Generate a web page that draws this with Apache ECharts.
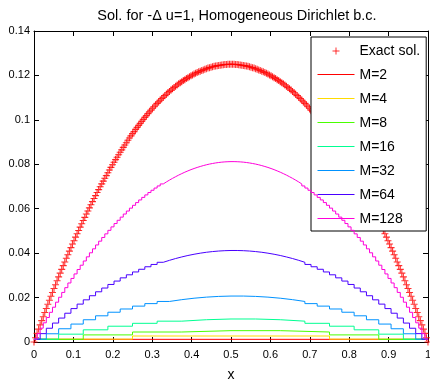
<!DOCTYPE html>
<html>
<head>
<meta charset="utf-8">
<script src="https://cdn.jsdelivr.net/npm/echarts@6/dist/echarts.min.js"></script>
<style>
html,body{margin:0;padding:0;background:#fff;}
#c{width:430px;height:383px;}
</style>
</head>
<body>
<div id="c"></div>
<script>
const titleText = 'Sol. for -\u0394 u=1, Homogeneous Dirichlet b.c.';
const xName = 'x';
const seriesNames = ['Exact sol.', 'M=2', 'M=4', 'M=8', 'M=16', 'M=32', 'M=64', 'M=128'];
const colors = ['#ff0000', '#ff0000', '#ffdb00', '#49ff00', '#00ff92', '#0092ff', '#4900ff', '#ff00db'];

// exact solution sampled at 257 equally spaced points on [0,1]
const exactVals = [
0,.0019,.0039,.0058,.0077,.0096,.0114,.0133,.0151,.0170,
.0188,.0206,.0223,.0241,.0258,.0276,.0293,.0310,.0327,.0344,
.0360,.0377,.0393,.0409,.0425,.0441,.0456,.0472,.0487,.0502,
.0517,.0532,.0547,.0561,.0576,.0590,.0604,.0618,.0632,.0646,
.0659,.0673,.0686,.0699,.0712,.0724,.0737,.0749,.0762,.0774,
.0786,.0798,.0809,.0821,.0832,.0843,.0854,.0865,.0876,.0887,
.0897,.0908,.0918,.0928,.0938,.0947,.0957,.0966,.0975,.0984,
.0993,.1002,.1011,.1019,.1028,.1036,.1044,.1052,.1059,.1067,
.1074,.1081,.1089,.1096,.1102,.1109,.1115,.1122,.1128,.1134,
.1140,.1146,.1151,.1157,.1162,.1167,.1172,.1177,.1181,.1186,
.1190,.1194,.1198,.1202,.1206,.1210,.1213,.1216,.1219,.1222,
.1225,.1228,.1230,.1233,.1235,.1237,.1239,.1241,.1242,.1244,
.1245,.1246,.1247,.1248,.1249,.1249,.1250,.1250,.1250,
.1250,.1250,.1249,.1249,.1248,.1247,.1246,.1245,
.1244,.1242,.1241,.1239,.1237,.1235,.1233,.1230,.1228,.1225,
.1222,.1219,.1216,.1213,.1210,.1206,.1202,.1198,.1194,.1190,
.1186,.1181,.1177,.1172,.1167,.1162,.1157,.1151,.1146,.1140,
.1134,.1128,.1122,.1115,.1109,.1102,.1096,.1089,.1081,.1074,
.1067,.1059,.1052,.1044,.1036,.1028,.1019,.1011,.1002,.0993,
.0984,.0975,.0966,.0957,.0947,.0938,.0928,.0918,.0908,.0897,
.0887,.0876,.0865,.0854,.0843,.0832,.0821,.0809,.0798,.0786,
.0774,.0762,.0749,.0737,.0724,.0712,.0699,.0686,.0673,.0659,
.0646,.0632,.0618,.0604,.0590,.0576,.0561,.0547,.0532,.0517,
.0502,.0487,.0472,.0456,.0441,.0425,.0409,.0393,.0377,.0360,
.0344,.0327,.0310,.0293,.0276,.0258,.0241,.0223,.0206,.0188,
.0170,.0151,.0133,.0114,.0096,.0077,.0058,.0039,.0019,0
];

// piecewise-constant values, one per cell of width 1/M
const m2 = [0.0012, 0.0012];
const m4 = [0.0013, 0.0027, 0.0027, 0.0013];
const m8 = [0.0012, 0.0032, 0.0045, 0.0051, 0.0051, 0.0045, 0.0032, 0.0012];
const m16 = [0.00126,0.00353,0.00548,0.00711,0.00841,0.00938,0.01003,0.01036,
             0.01036,0.01003,0.00938,0.00841,0.00711,0.00548,0.00353,0.00126];
const m32 = [0.00127,0.00370,0.00596,0.00807,0.01001,0.01179,0.01340,0.01486,0.01615,0.01728,0.01825,0.01906,0.01971,0.02020,0.02052,0.02068,
             0.02068,0.02052,0.02020,0.01971,0.01906,0.01825,0.01728,0.01615,0.01486,0.01340,0.01179,0.01001,0.00807,0.00596,0.00370,0.00127];
const m64 = [
0.00128,0.00377,0.00619,0.00852,0.01077,0.01295,0.01504,0.01705,0.01898,0.02083,
0.02260,0.02429,0.02590,0.02743,0.02888,0.03025,0.03153,0.03274,0.03387,0.03491,
0.03588,0.03676,0.03757,0.03829,0.03894,0.03950,0.03998,0.04039,0.04071,0.04095,
0.04111,0.04119,
0.04119,0.04111,
0.04095,0.04071,0.04039,0.03998,0.03950,0.03894,0.03829,0.03757,0.03676,0.03588,
0.03491,0.03387,0.03274,0.03153,0.03025,0.02888,0.02743,0.02590,0.02429,0.02260,
0.02083,0.01898,0.01705,0.01504,0.01295,0.01077,0.00852,0.00619,0.00377,0.00128];
const m128 = [
0.00126,0.00376,0.00622,0.00864,0.01102,0.01336,0.01566,0.01792,0.02014,0.02232,
0.02446,0.02656,0.02862,0.03064,0.03263,0.03457,0.03647,0.03834,0.04016,0.04194,
0.04369,0.04539,0.04706,0.04868,0.05027,0.05182,0.05332,0.05479,0.05622,0.05760,
0.05895,0.06026,0.06153,0.06276,0.06395,0.06510,0.06621,0.06728,0.06831,0.06930,
0.07025,0.07116,0.07204,0.07287,0.07366,0.07441,0.07513,0.07580,0.07644,0.07703,
0.07759,0.07810,0.07858,0.07901,0.07941,0.07977,0.08009,0.08036,0.08060,0.08080,
0.08096,0.08108,0.08116,0.08120,
0.08120,0.08116,0.08108,0.08096,
0.08080,0.08060,0.08036,0.08009,0.07977,0.07941,0.07901,0.07858,0.07810,0.07759,
0.07703,0.07644,0.07580,0.07513,0.07441,0.07366,0.07287,0.07204,0.07116,0.07025,
0.06930,0.06831,0.06728,0.06621,0.06510,0.06395,0.06276,0.06153,0.06026,0.05895,
0.05760,0.05622,0.05479,0.05332,0.05182,0.05027,0.04868,0.04706,0.04539,0.04369,
0.04194,0.04016,0.03834,0.03647,0.03457,0.03263,0.03064,0.02862,0.02656,0.02446,
0.02232,0.02014,0.01792,0.01566,0.01336,0.01102,0.00864,0.00622,0.00376,0.00126];

const stepSets = [m2, m4, m8, m16, m32, m64, m128];

const FONT = '"Liberation Sans", Arial, Helvetica, sans-serif';
const PLUS = 'path://M0,3.5L7,3.5M3.5,0L3.5,7';
// legend line icon: a horizontal stroke spanning the icon box
const LINE_ICON = 'path://M0,0L0,0M0,3L37,3M37,7L37,7';

const exactData = exactVals.map((v, i) => [i / (exactVals.length - 1), v]);

function stepData(vals) {
  const M = vals.length;
  const d = vals.map((v, k) => [k / M, v]);
  d.push([1, vals[M - 1]]);
  return d;
}

const series = [{
  name: seriesNames[0],
  type: 'scatter',
  data: exactData,
  symbol: PLUS,
  symbolSize: 7,
  symbolKeepAspect: true,
  itemStyle: { color: 'transparent', borderColor: colors[0], borderWidth: 1.1 },
  emphasis: { disabled: true },
  z: 2
}];
stepSets.forEach((vals, i) => {
  series.push({
    name: seriesNames[i + 1],
    type: 'line',
    step: 'end',
    data: stepData(vals),
    symbol: 'none',
    showSymbol: false,
    lineStyle: { color: colors[i + 1], width: 1 },
    itemStyle: { color: colors[i + 1] },
    emphasis: { disabled: true },
    z: 3 + i
  });
});

const legendData = seriesNames.map((n, i) => ({
  name: n,
  icon: i === 0 ? PLUS : LINE_ICON,
  itemStyle: { color: 'transparent', borderColor: colors[i], borderWidth: 1 }
}));

const axisCommon = {
  type: 'value',
  axisLine: { show: true, onZero: false, lineStyle: { color: '#000', width: 1 } },
  axisTick: { show: true, inside: true, length: 5, lineStyle: { color: '#000' } },
  splitLine: { show: false }
};

const chart = echarts.init(document.getElementById('c'), null, { renderer: 'canvas' });
chart.setOption({
  animation: false,
  backgroundColor: '#fff',
  textStyle: { fontFamily: FONT },
  title: {
    text: titleText,
    left: 232,
    textAlign: 'center',
    top: 3,
    textStyle: { fontSize: 14.5, fontWeight: 'normal', color: '#000', fontFamily: FONT }
  },
  grid: { left: 34, right: 2, top: 31, bottom: 41, containLabel: false, outerBoundsMode: 'none' },
  xAxis: [
    Object.assign({}, axisCommon, {
      position: 'bottom', min: 0, max: 1, interval: 0.1,
      axisLabel: { color: '#000', fontSize: 11, margin: 7, fontFamily: FONT },
      name: xName, nameLocation: 'middle', nameGap: 26,
      nameTextStyle: { color: '#000', fontSize: 14, fontFamily: FONT }
    }),
    Object.assign({}, axisCommon, {
      position: 'top', min: 0, max: 1, interval: 0.1,
      axisLabel: { show: false }
    })
  ],
  yAxis: [
    Object.assign({}, axisCommon, {
      position: 'left', min: 0, max: 0.14, interval: 0.02,
      axisLabel: { color: '#000', fontSize: 11, margin: 4, fontFamily: FONT }
    }),
    Object.assign({}, axisCommon, {
      position: 'right', min: 0, max: 0.14, interval: 0.02,
      axisLabel: { show: false }
    })
  ],
  legend: {
    orient: 'vertical',
    left: 311,
    top: 37,
    padding: [7, 6, 5, 6],
    itemWidth: 37,
    itemHeight: 7,
    itemGap: 10,
    backgroundColor: '#fff',
    borderColor: '#000',
    borderWidth: 1,
    selectedMode: false,
    textStyle: { color: '#000', fontSize: 14, fontFamily: FONT },
    data: legendData
  },
  series: series
});
</script>
</body>
</html>
